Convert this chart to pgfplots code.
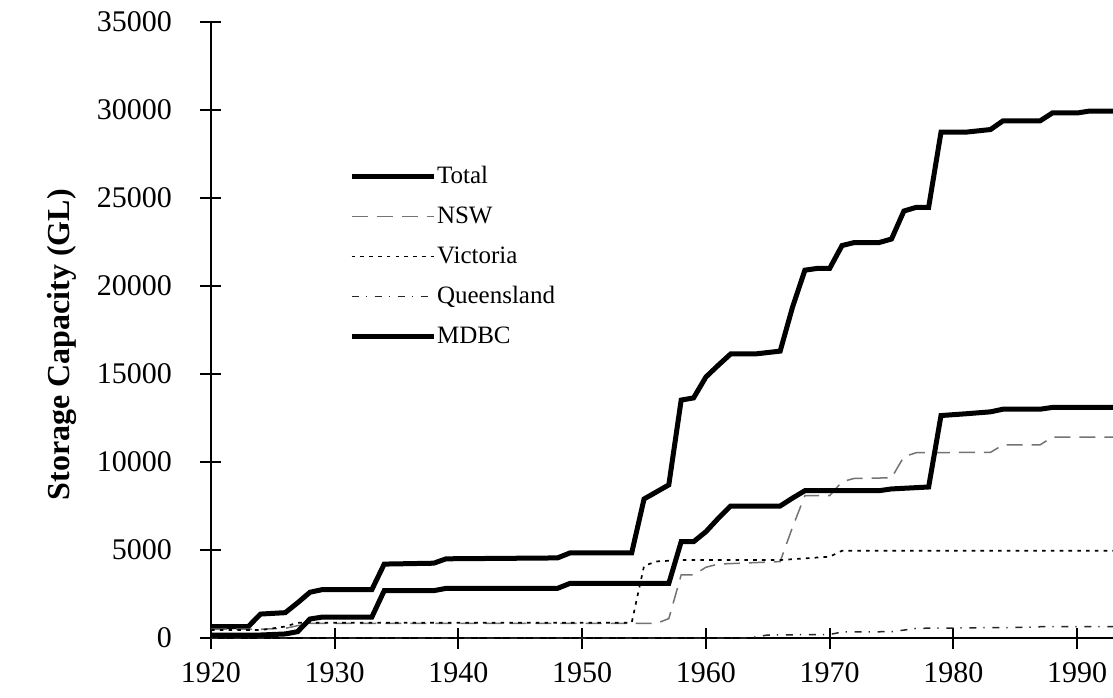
\documentclass[border=0pt]{standalone}
\usepackage{fontspec}
\setmainfont{Liberation Serif}
\usepackage{pgfplots}
\pgfplotsset{compat=1.18}
\begin{document}
\fontsize{14}{17}\selectfont
\begin{tikzpicture}
\begin{axis}[
  scale only axis, width=451pt, height=308pt,
  xmin=1920, xmax=1992.9, ymin=0, ymax=35000,
  axis x line=bottom, axis y line=left,
  axis line style={-, line width=1pt},
  xtick={1920,1930,...,1990}, ytick={0,5000,...,35000},
  scaled y ticks=false, scaled x ticks=false,
  major tick length=10.5pt, tick align=center,
  tick style={line width=1pt, black},
  /pgf/number format/1000 sep={},
  xticklabel={\fontsize{15}{18}\selectfont\pgfmathprintnumber[assume math mode=true,fixed,precision=0]{\tick}},
  yticklabel={\fontsize{15}{18}\selectfont\pgfmathprintnumber[assume math mode=true,fixed,precision=0]{\tick}},
  xticklabel style={yshift=-2pt},
  yticklabel style={xshift=-9.5pt},
  ylabel={\textbf{Storage Capacity (GL)}},
  ylabel style={at={(axis description cs:-0.165,0.476)}, anchor=center, font=\fontsize{16}{19}\selectfont},
  legend style={draw=none, fill=none, at={(axis description cs:0.1526,0.771)}, anchor=north west,
    inner sep=0pt, row sep=7pt,
    nodes={inner xsep=0.5pt, inner ysep=0pt, text height=10pt, text depth=3pt, font=\fontsize{12.5}{15}\selectfont}},
  legend cell align=left,
  legend image code/.code={\draw[#1] (0pt,0pt) -- (41pt,0pt);},
  clip=true,
]
\addplot[black, line width=2.5pt] coordinates {
(1920,640) (1923,640) (1924,1360) (1926,1440) (1927,2000) (1928,2600) (1929,2750) (1933,2750)
(1934,4200) (1938,4250) (1939,4500) (1948,4550) (1949,4830) (1954,4830) (1955,7900) (1956,8300)
(1957,8700) (1958,13520) (1959,13640) (1960,14830) (1961,15500) (1962,16140) (1964,16140)
(1966,16300) (1967,18800) (1968,20900) (1969,21000) (1970,21000) (1971,22300) (1972,22470)
(1974,22470) (1975,22670) (1976,24260) (1977,24470) (1978,24470) (1979,28740) (1981,28740)
(1983,28890) (1984,29380) (1987,29380) (1988,29830) (1990,29830) (1991,29940) (1994,29940)};
\addlegendentry{Total}
\addplot[black!55, line width=0.75pt, dash pattern=on 8pt off 4.5pt] coordinates {
(1920,500) (1924,500) (1926,550) (1927,700) (1928,830) (1956,830) (1957,1100) (1958,3580)
(1959,3580) (1960,4020) (1961,4200) (1966,4340) (1967,6300) (1968,8090) (1970,8090) (1971,8880)
(1972,9070) (1975,9100) (1976,10300) (1977,10530) (1983,10550) (1984,10970) (1987,10970)
(1988,11420) (1994,11420)};
\addlegendentry{NSW}
\addplot[black, line width=0.85pt, dash pattern=on 1.8pt off 2.6pt] coordinates {
(1920,450) (1924,450) (1926,650) (1927,870) (1954,870) (1955,4100) (1956,4350) (1958,4430)
(1966,4430) (1970,4620) (1971,4960) (1994,4960)};
\addlegendentry{Victoria}
\addplot[black!85, line width=0.75pt, dash pattern=on 3.5pt off 3.5pt on 0.7pt off 3.8pt] coordinates {
(1920,0) (1963,0) (1964,60) (1965,170) (1970,200) (1971,340) (1975,360) (1976,450) (1977,550)
(1985,600) (1987,640) (1994,640)};
\addlegendentry{Queensland}
\addplot[black, line width=2.5pt] coordinates {
(1920,170) (1924,170) (1926,230) (1927,360) (1928,1080) (1929,1190) (1933,1190) (1934,2690)
(1938,2690) (1939,2820) (1948,2820) (1949,3100) (1957,3100) (1958,5470) (1959,5470) (1960,6040)
(1961,6800) (1962,7500) (1966,7500) (1967,7950) (1968,8370) (1974,8370) (1975,8470) (1978,8580)
(1979,12640) (1981,12740) (1983,12850) (1984,13000) (1987,13000) (1988,13100) (1994,13100)};
\addlegendentry{MDBC}
\end{axis}
\pgfresetboundingbox
\path[use as bounding box] (-105.5pt,-29.5pt) rectangle (451pt,319pt);
\end{tikzpicture}
\end{document}
